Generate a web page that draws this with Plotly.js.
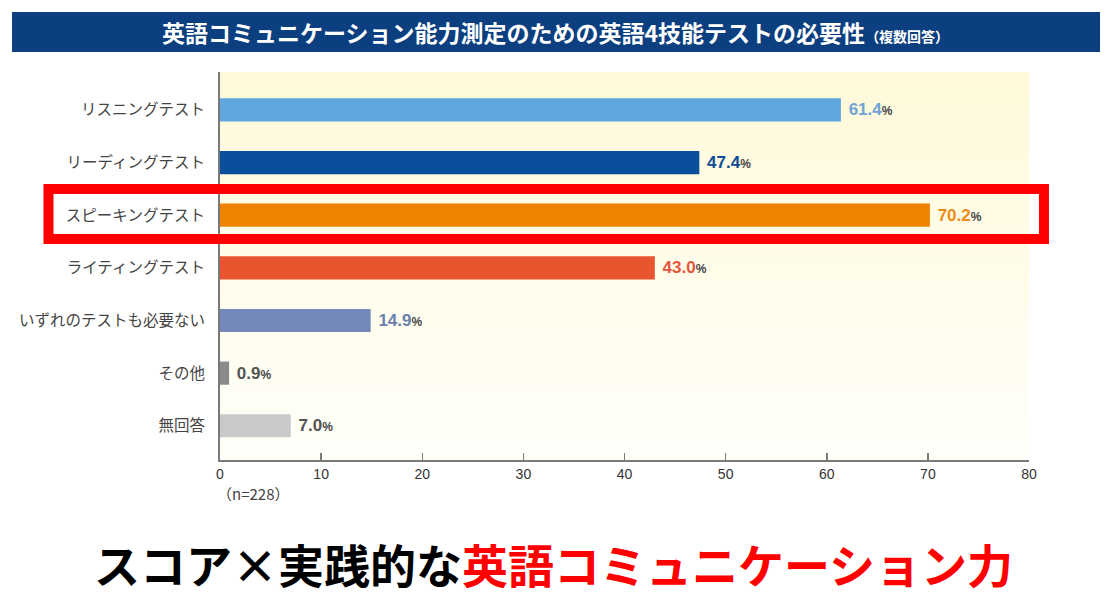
<!DOCTYPE html>
<html>
<head>
<meta charset="utf-8">
<script src="https://cdn.plot.ly/plotly-3.0.1.min.js"></script>
<style>
html,body{margin:0;padding:0;background:#fff;}
#chart{width:1112px;height:616px;}
</style>
</head>
<body>
<div id="chart"></div>
<script>
const categories = ["リスニングテスト","リーディングテスト","スピーキングテスト","ライティングテスト","いずれのテストも必要ない","その他","無回答"];
const values = [61.4, 47.4, 70.2, 43.0, 14.9, 0.9, 7.0];
const barColors = ["#5EA6DD","#0A4F9B","#EE8300","#E8552F","#7489BA","#8A8A8A","#C9C9C9"];
const labelColors = ["#6FA2D6","#0D4C96","#EE8A12","#E4573A","#6C80B0","#555555","#555555"];
const xTicks = [0,10,20,30,40,50,60,70,80];
const chartTitle = "英語コミュニケーション能力測定のための英語4技能テストの必要性";
const titleNote = "（複数回答）";
const sampleNote = "（n=228）";
const footBlack = "スコア×実践的な";
const footRed = "英語コミュニケーション力";

const labels = values.map((v,i)=>
  "<b><span style='color:"+labelColors[i]+"'>"+v.toFixed(1)+"</span><span style='font-size:12px;color:#444'>%</span></b>");

const gradSvg = "<svg xmlns='http://www.w3.org/2000/svg' width='10' height='100' preserveAspectRatio='none'><defs><linearGradient id='g' x1='0' y1='0' x2='0' y2='1'><stop offset='0' stop-color='#FFF9D9'/><stop offset='1' stop-color='#FFFFFA'/></linearGradient></defs><rect width='10' height='100' fill='url(#g)'/></svg>";
const gradUrl = "data:image/svg+xml;base64," + btoa(gradSvg);

const trace = {
  type: "bar",
  orientation: "h",
  y: categories,
  x: values,
  marker: {color: barColors},
  width: 0.44,
  text: labels,
  textposition: "outside",
  texttemplate: " %{text}",
  cliponaxis: false,
  textfont: {family: "'Liberation Sans Narrow', 'Liberation Sans', Arial, sans-serif", size: 17, color: labelColors},
  hoverinfo: "none"
};

const layout = {
  width: 1112, height: 616,
  margin: {l: 220, r: 83, t: 72, b: 156, pad: 0},
  paper_bgcolor: "#ffffff",
  plot_bgcolor: "rgba(0,0,0,0)",
  showlegend: false,
  font: {family: "'Noto Sans CJK JP', sans-serif", color: "#444"},
  xaxis: {
    range: [0, 80], tickvals: xTicks, ticktext: xTicks.map(String),
    showgrid: false, zeroline: false,
    showline: true, linecolor: "#7a7a7a", linewidth: 2,
    ticks: "inside", ticklen: 7, tickcolor: "#7a7a7a", tickwidth: 1.5,
    tickfont: {family: "'Liberation Sans', Arial, sans-serif", size: 14, color: "#333"},
    fixedrange: true
  },
  yaxis: {
    type: "category", autorange: false, range: [6.65, -0.72],
    showgrid: false, zeroline: false,
    showline: true, linecolor: "#7a7a7a", linewidth: 2,
    ticks: "", ticklabelstandoff: 10,
    tickfont: {family: "'Noto Sans CJK JP', sans-serif", size: 15.5, color: "#444"},
    fixedrange: true
  },
  images: [{
    source: gradUrl, xref: "paper", yref: "paper",
    x: 0, y: 1, sizex: 1, sizey: 1, sizing: "stretch",
    xanchor: "left", yanchor: "top", layer: "below"
  }],
  shapes: [
    {type: "rect", xref: "paper", yref: "paper", x0: -0.2571, x1: 1.0878, y0: 1.0515, y1: 1.1546,
     fillcolor: "#0B3F80", line: {width: 0}, layer: "above"},
    {type: "rect", xref: "paper", yref: "paper", x0: -0.212, x1: 1.0185, y0: 0.5696, y1: 0.6985,
     fillcolor: "rgba(0,0,0,0)", line: {color: "#FF0000", width: 10}, layer: "above"}
  ],
  annotations: [
    {xref: "paper", yref: "paper", x: 0.4153, y: 1.103, xanchor: "center", yanchor: "middle", showarrow: false,
     text: "<b>" + chartTitle + "</b><b><span style='font-size:14px'>" + titleNote + "</span></b>",
     font: {family: "'Noto Sans CJK JP', sans-serif", size: 23, color: "#ffffff"}},
    {xref: "paper", yref: "paper", x: 0.041, y: -0.0876, xanchor: "center", yanchor: "middle", showarrow: false,
     text: sampleNote, font: {family: "'Noto Sans CJK JP', sans-serif", size: 15, color: "#444"}},
    {xref: "paper", yref: "paper", x: 0.412, y: -0.2655, xanchor: "center", yanchor: "middle", showarrow: false,
     text: "<b>" + footBlack + "<span style='color:#FF0000'>" + footRed + "</span></b>",
     font: {family: "'Noto Sans CJK JP', sans-serif", size: 46, color: "#000000"}}
  ]
};

Plotly.newPlot("chart", [trace], layout, {displayModeBar: false, staticPlot: true});
</script>
</body>
</html>
